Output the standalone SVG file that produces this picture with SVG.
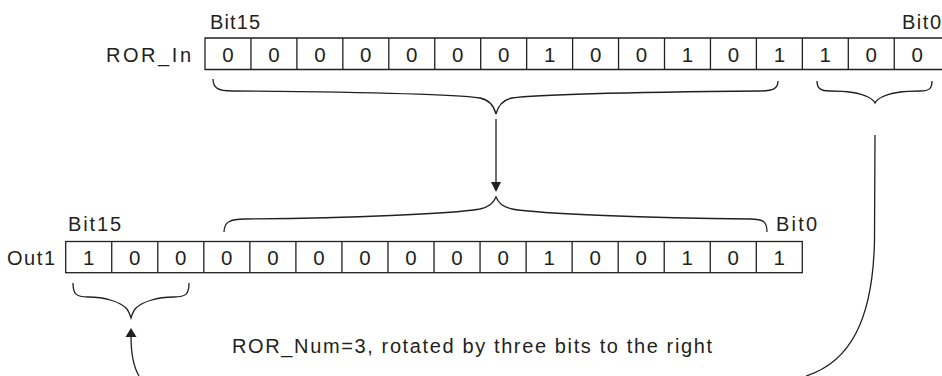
<svg xmlns="http://www.w3.org/2000/svg" width="942" height="376" viewBox="0 0 942 376">
<defs>
<style>
.t{font-family:"Liberation Sans",Arial,sans-serif;fill:#231f20;}
.lbl{font-size:20px;}
.d{font-size:20.5px;text-anchor:middle;}
.box{fill:none;stroke:#231f20;stroke-width:1.3;}
.br{fill:none;stroke:#231f20;stroke-width:1.3;}
.ln{fill:none;stroke:#231f20;stroke-width:1.3;}
.ah{fill:#231f20;stroke:none;}
</style>
</defs>
<rect width="942" height="376" fill="#ffffff"/>

<g id="ror-in">
<text class="t lbl" x="106" y="61.5" textLength="85" lengthAdjust="spacing">ROR_In</text>
<text class="t lbl" x="210" y="28.5" textLength="50" lengthAdjust="spacing">Bit15</text>
<text class="t lbl" x="902" y="28.5" textLength="39" lengthAdjust="spacing">Bit0</text>
<path class="box" d="M944,38 H205 V69.5 H944"/>
<path class="box" d="M250.95,38V69.5M296.9,38V69.5M342.85,38V69.5M388.8,38V69.5M434.75,38V69.5M480.7,38V69.5M526.65,38V69.5M572.6,38V69.5M618.55,38V69.5M664.5,38V69.5M710.45,38V69.5M756.4,38V69.5M802.35,38V69.5M848.3,38V69.5M894.25,38V69.5"/>
<g class="t d">
<text x="228" y="61.5">0</text>
<text x="273.9" y="61.5">0</text>
<text x="319.9" y="61.5">0</text>
<text x="365.8" y="61.5">0</text>
<text x="411.8" y="61.5">0</text>
<text x="457.7" y="61.5">0</text>
<text x="503.7" y="61.5">0</text>
<text x="549.6" y="61.5">1</text>
<text x="595.6" y="61.5">0</text>
<text x="641.5" y="61.5">0</text>
<text x="687.5" y="61.5">1</text>
<text x="733.4" y="61.5">0</text>
<text x="779.4" y="61.5">1</text>
<text x="825.3" y="61.5">1</text>
<text x="871.3" y="61.5">0</text>
<text x="917.2" y="61.5">0</text>
</g>
</g>

<g id="out1">
<text class="t lbl" x="7" y="265" textLength="48" lengthAdjust="spacing">Out1</text>
<text class="t lbl" x="68" y="231" textLength="53" lengthAdjust="spacing">Bit15</text>
<text class="t lbl" x="776" y="231" textLength="41" lengthAdjust="spacing">Bit0</text>
<rect class="box" x="65.7" y="241.5" width="736.6" height="31.2"/>
<path class="box" d="M111.74,241.5V272.7M157.78,241.5V272.7M203.82,241.5V272.7M249.86,241.5V272.7M295.9,241.5V272.7M341.94,241.5V272.7M387.98,241.5V272.7M434.02,241.5V272.7M480.06,241.5V272.7M526.1,241.5V272.7M572.14,241.5V272.7M618.18,241.5V272.7M664.22,241.5V272.7M710.26,241.5V272.7M756.3,241.5V272.7"/>
<g class="t d">
<text x="88.7" y="265">1</text>
<text x="134.8" y="265">0</text>
<text x="180.8" y="265">0</text>
<text x="226.8" y="265">0</text>
<text x="272.9" y="265">0</text>
<text x="318.9" y="265">0</text>
<text x="365" y="265">0</text>
<text x="411" y="265">0</text>
<text x="457" y="265">0</text>
<text x="503.1" y="265">0</text>
<text x="549.1" y="265">1</text>
<text x="595.1" y="265">0</text>
<text x="641.2" y="265">0</text>
<text x="687.2" y="265">1</text>
<text x="733.3" y="265">0</text>
<text x="779.3" y="265">1</text>
</g>
</g>

<g id="brace-top-main">
<path class="br" d="M213,79 C213,88 218,91 232,91 C350,92 450,94 480,98 C490,100 494,106 496,114 C498,106 502,100 512,98 C540,94 650,92 760,91 C774,91 778,88 778,81"/>
</g>
<g id="brace-top-small">
<path class="br" d="M817,81 C817,88 820,91 830,91 C850,91 862,94 868,97 C872,99 874,101 875,103 C876,101 878,99 882,97 C888,94 900,91 920,91 C930,91 932,88 932,81"/>
</g>
<g id="brace-bottom-main">
<path class="br" d="M224,232 C224,222 230,219 245,219 C350,218 450,214 480,209 C490,207 494,202 496,197 C498,202 502,207 512,209 C540,214 650,218 750,219 C764,219 767,222 767,232"/>
</g>
<g id="brace-bottom-small">
<path class="br" d="M73,283 C73,294 76,297 88,297 C105,297 120,302 126,308 C129,311 130,315 131,318 C132,315 133,311 136,308 C142,302 157,297 174,297 C186,297 189,294 189,283"/>
</g>

<g id="note">
<text class="t lbl" x="232" y="353" textLength="480" lengthAdjust="spacing">ROR_Num=3, rotated by three bits to the right</text>
</g>

<g id="connectors">
<path class="ln" d="M496,119 V183"/>
<polygon class="ah" points="491,182 501,182 496,192"/>
<path class="ln" d="M875,135 L874.5,240 C873,320 850,362 806,376"/>
<path class="ln" d="M131,336 C131,354 133,366 139,376"/>
<polygon class="ah" points="125.5,337 136.5,337 131,328"/>
</g>
</svg>
